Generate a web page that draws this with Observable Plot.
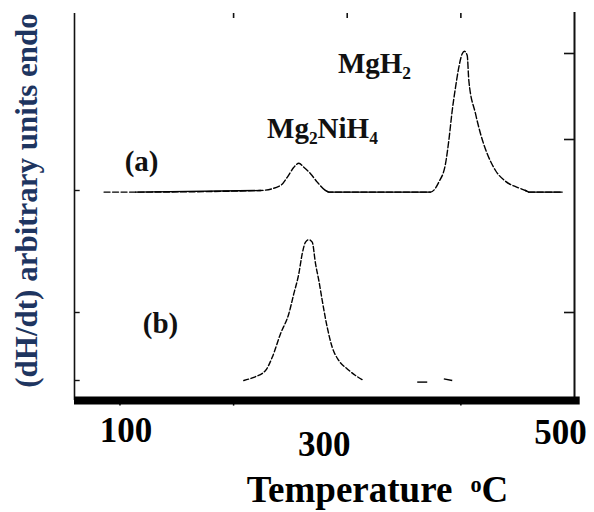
<!DOCTYPE html>
<html>
<head>
<meta charset="utf-8">
<script src="https://cdn.jsdelivr.net/npm/d3@7"></script>
<script src="https://cdn.jsdelivr.net/npm/@observablehq/plot@0.6"></script>
<style>
  html, body { margin: 0; padding: 0; background: #fff; }
  #chart { width: 594px; height: 512px; }
</style>
</head>
<body>
<div id="chart"></div>
<script>
// ---- Data (temperature in °C, signal in arbitrary units) ----
const tempA = [86, 95, 104, 113.7, 223.7, 241.3, 247.2, 253, 257.4, 261.8, 267.7, 273.6, 280.9, 283.8,
               373.3, 380.6, 386.5, 389.4, 392.4, 395.3, 398.2, 401.2, 403.2, 405.6, 407, 412.9, 417.3,
               423.2, 430.5, 439.3, 449.6, 456.9, 459.8, 489.2];
const signalA = [52.1, 52.1, 52.1, 52.1, 52.5, 53.75, 55.8, 58.3, 59.3, 58.3, 56.7, 54.6, 52.5, 52.1,
                 52.1, 54.6, 59.2, 65, 72.5, 78.3, 83.3, 86.7, 87.3, 86.25, 80, 71.7, 66.7,
                 61.7, 57.5, 54.8, 53.3, 52.5, 52.1, 52.1];
const tempB = [209, 217.8, 228.1, 234, 241.3, 248.6, 253, 257.4, 260.4, 263.3, 266.2, 269.2, 272.1,
               275, 278, 282.4, 286.8, 292.6, 300, 307.3, 314.6];
const signalB = [5, 5.8, 7.5, 10.8, 16.7, 21.7, 26.7, 31.7, 36.7, 39.6, 40.2, 39.6, 34.2,
                 30, 25, 18.3, 13.3, 10, 7.9, 6.25, 5];
// small leftover fragments of curve (b)
const residueT1 = [361.6, 385];
const residueT2 = [370.4, 392.4];
const residueV1 = [4.6, 5.4];
const residueV2 = [4.6, 5];

const xTickLabels = [100, 300, 500];
const topTicks = [200, 300, 400];
const bottomTicks = [100, 200, 400];
const rightTicks = [22, 65.25, 86.75];
const leftTicks = [5, 22, 52.5];

const peakLabels = ["(a)", "(b)", "MgH₂", "Mg₂NiH₄"];
const peakLabelT = [119, 135.7, 324, 278.2];
const peakLabelV = [59.75, 19.25, 84.1, 68];

const xTitle = "Temperature  ᵒC";
const yTitle = "(dH/dt) arbitrary units endo";

// ---- Build tables ----
const curveA = tempA.map((t, i) => ({t, v: signalA[i]}));
const curveB = tempB.map((t, i) => ({t, v: signalB[i]}));
const residue = residueT1.map((t, i) => ({t1: t, t2: residueT2[i], v1: residueV1[i], v2: residueV2[i]}));
const peaks = peakLabels.map((label, i) => ({label, t: peakLabelT[i], v: peakLabelV[i]}));

const font = "'Liberation Serif', 'Times New Roman', 'DejaVu Serif', serif";

const plot = Plot.plot({
  width: 594,
  height: 512,
  marginTop: 0,
  marginRight: 20,
  marginBottom: 112,
  marginLeft: 74,
  x: {domain: [60, 500], axis: null},
  y: {domain: [0, 100], axis: null},
  style: {fontFamily: font, fontWeight: "bold", color: "#000", background: "#fff", overflow: "visible"},
  marks: [
    // frame
    Plot.ruleX([60], {y1: 0, y2: 96.75, strokeWidth: 1.6, stroke: "#111"}),
    Plot.ruleX([500], {y1: 0, y2: 97, strokeWidth: 2, stroke: "#111"}),
    Plot.ruleX(topTicks, {y1: 96.75, y2: 95.5, strokeWidth: 1.6, stroke: "#111"}),
    Plot.ruleY(rightTicks, {x1: 500, x2: 491.2, strokeWidth: 1.6, stroke: "#111"}),
    Plot.ruleY(leftTicks, {x1: 60, x2: 65, strokeWidth: 1.4, stroke: "#111"}),
    // curves
    Plot.line(curveA, {x: "t", y: "v", curve: "monotone-x", strokeWidth: 1.4, stroke: "#000", strokeDasharray: "6,2.5"}),
    Plot.line(curveA, {x: "t", y: d => (d.t >= 113 && d.v <= 52.5) ? d.v : NaN, strokeWidth: 1.4, stroke: "#000"}),
    Plot.line(curveB, {x: "t", y: "v", curve: "monotone-x", strokeWidth: 1.4, stroke: "#000", strokeDasharray: "5,2.5"}),
    Plot.link(residue, {x1: "t1", x2: "t2", y1: "v1", y2: "v2", strokeWidth: 1.4, stroke: "#000"}),
    // thick bottom axis
    Plot.ruleY([0], {x1: 60, x2: 505, strokeWidth: 8, stroke: "#000"}),
    Plot.ruleX(bottomTicks, {y1: 0, y2: -1.4, strokeWidth: 1.5, stroke: "#000"}),
    // tick labels
    Plot.axisX([xTickLabels[0]], {tickSize: 0, tickPadding: 17, fontSize: 35, fill: "#000", dx: 6, label: null}),
    Plot.axisX([xTickLabels[1]], {tickSize: 0, tickPadding: 17, fontSize: 35, fill: "#000", dx: -23, dy: 14, label: null}),
    Plot.axisX([xTickLabels[2]], {tickSize: 0, tickPadding: 17, fontSize: 35, fill: "#000", dx: -14, dy: 2, label: null}),
    // annotations
    Plot.text(peaks, {x: "t", y: "v", text: "label", fontSize: 29, fill: "#111"}),
    // titles
    Plot.text([xTitle], {frameAnchor: "bottom", textAnchor: "middle", lineAnchor: "top", dx: 53, dy: 75, fontSize: 37, fill: "#000"}),
    Plot.text([yTitle], {frameAnchor: "left", textAnchor: "middle", rotate: -90, dx: -47, dy: 0, fontSize: 31, fill: "#1e3560"})
  ]
});

document.getElementById("chart").appendChild(plot);
</script>
</body>
</html>
